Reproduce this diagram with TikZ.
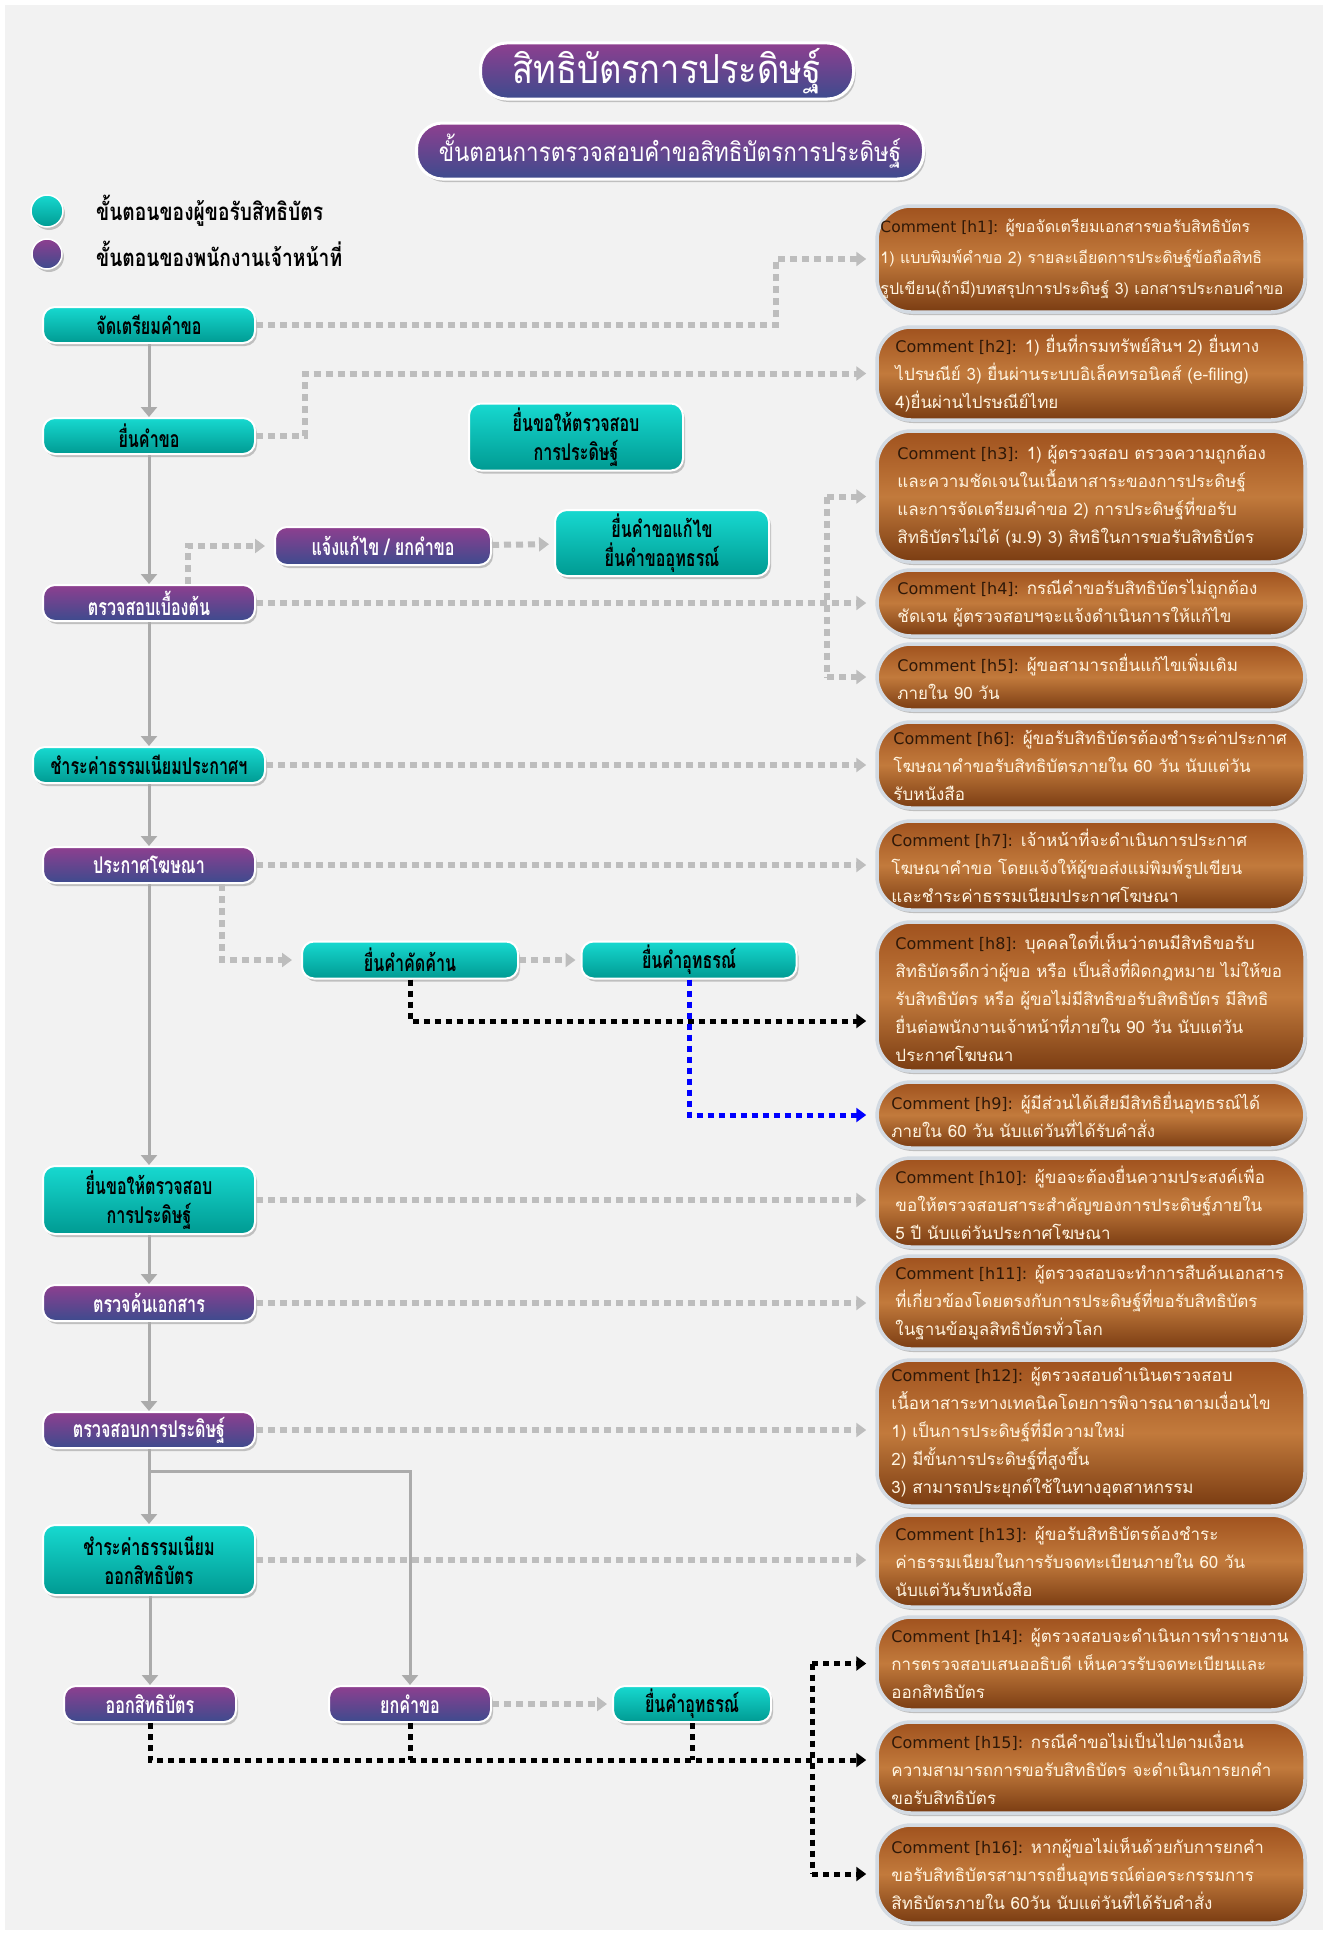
\documentclass[tikz,border=0pt]{standalone}
\usepackage{fontspec}
\setmainfont{Loma}[Script=Thai]
\newfontfamily\condf{Loma}[Script=Thai,FakeStretch=0.7]
\newfontfamily\legf{Loma}[Script=Thai,FakeStretch=0.8]
\newfontfamily\titf{Loma}[Script=Thai,FakeStretch=0.86]
\newfontfamily\latf{DejaVu Sans}
\usetikzlibrary{arrows.meta,shadows,calc}
\definecolor{bgc}{HTML}{F2F2F2}
\definecolor{tealA}{HTML}{17D9D0}
\definecolor{tealB}{HTML}{009A92}
\definecolor{purA}{HTML}{8E3F8F}
\definecolor{purB}{HTML}{3D4B8E}
\definecolor{brA}{HTML}{A0521E}
\definecolor{brM}{HTML}{C27A3C}
\definecolor{brB}{HTML}{7A3C12}
\definecolor{cborder}{HTML}{D3DAE2}
\definecolor{cream}{HTML}{FFF4E0}
\definecolor{cdark}{HTML}{2E1808}
\definecolor{garr}{HTML}{ABABAB}
\definecolor{gdotc}{HTML}{BDBDBD}
\tikzset{
  shad/.style={drop shadow={opacity=0.3,shadow xshift=2pt,shadow yshift=-3pt,fill=black!70}},
  basebox/.style={shad,rounded corners=12pt,draw=white,line width=2pt,align=center,inner sep=2pt,
     font=\condf\bfseries\fontsize{23}{29}\selectfont,minimum width=212pt,minimum height=36pt},
  tealbox/.style={basebox,top color=tealA,bottom color=tealB,text=black},
  purbox/.style={basebox,top color=purA,bottom color=purB,text=white},
  titlebox/.style={shad,rounded corners=26pt,draw=white,line width=3pt,top color=purA,bottom color=purB,
     text=white,minimum height=56pt,align=center},
  combox/.style={shad,rounded corners=34pt,draw=cborder,line width=3.5pt,top color=brA,bottom color=brB,middle color=brM,
     minimum width=428pt},
  ctext/.style={anchor=west,align=left,inner sep=0pt,text=cream,font=\fontsize{17}{28}\selectfont},
  legtext/.style={anchor=west,inner sep=0pt,text=black,font=\legf\bfseries\fontsize{24}{28}\selectfont},
  garrow/.style={draw=garr,line width=3pt,-{Triangle[width=16pt,length=10pt]}},
  gdot/.style={draw=gdotc,line width=6pt,dash pattern=on 7pt off 5pt,-{Triangle[width=14pt,length=10pt]},shorten >=9pt},
  gdotline/.style={draw=gdotc,line width=6pt,dash pattern=on 7pt off 5pt},
  kdot/.style={draw=black,line width=5pt,dash pattern=on 6pt off 5pt,-{Triangle[width=14pt,length=10pt]},shorten >=9pt},
  kdotline/.style={draw=black,line width=5pt,dash pattern=on 6pt off 5pt},
  bdot/.style={draw=blue,line width=5pt,dash pattern=on 6pt off 5pt,-{Triangle[width=14pt,length=10pt]},shorten >=9pt},
}
\newcommand{\cm}[2][16]{\textcolor{cdark}{\latf\fontsize{#1}{28}\selectfont Comment [#2]:}}
\begin{document}
\begin{tikzpicture}[x=1pt,y=-1pt]
\useasboundingbox (0,0) rectangle (1328,1935);
\fill[white] (0,0) rectangle (1328,1935);
\fill[bgc] (5,5) rectangle (1323,1930);

% titles
\node[titlebox,minimum width=373pt,font=\titf\fontsize{40}{44}\selectfont] (title) at (667,71) {สิทธิบัตรการประดิษฐ์};
\node[titlebox,minimum width=507pt,font=\titf\fontsize{26}{30}\selectfont] (subtitle) at (670,151) {ขั้นตอนการตรวจสอบคำขอสิทธิบัตรการประดิษฐ์};

% legend
\node[shad,circle,minimum size=32pt,draw=white,line width=1.5pt,top color=tealA,bottom color=tealB] (lg1) at (47,211) {};
\node[shad,circle,minimum size=30pt,draw=white,line width=1.5pt,top color=purA,bottom color=purB] (lg2) at (47,254) {};
\node[legtext] (lg1t) at (96,211) {ขั้นตอนของผู้ขอรับสิทธิบัตร};
\node[legtext] (lg2t) at (96,254) {ขั้นตอนของพนักงานเจ้าหน้าที่};

% main column
\node[tealbox] (n1) at (149,325) {จัดเตรียมคำขอ};
\node[tealbox] (n2) at (149,436) {ยื่นคำขอ};
\node[purbox] (n3) at (149,603) {ตรวจสอบเบื้องต้น};
\node[tealbox,minimum width=232pt] (n4) at (149,765) {ชำระค่าธรรมเนียมประกาศฯ};
\node[purbox] (n5) at (149,865) {ประกาศโฆษณา};
\node[tealbox,minimum height=68pt] (n6) at (149,1200) {ยื่นขอให้ตรวจสอบ\\การประดิษฐ์};
\node[purbox] (n7) at (149,1303) {ตรวจค้นเอกสาร};
\node[purbox] (n8) at (149,1430) {ตรวจสอบการประดิษฐ์};
\node[tealbox,minimum height=70pt] (n9) at (149,1560) {ชำระค่าธรรมเนียม\\ออกสิทธิบัตร};
\node[purbox,minimum width=172pt] (n10) at (150,1704) {ออกสิทธิบัตร};
\node[purbox,minimum width=162pt] (n11) at (410,1704) {ยกคำขอ};
\node[tealbox,minimum width=158pt] (n12) at (692,1704) {ยื่นคำอุทธรณ์};

% middle nodes
\node[tealbox,minimum width=214pt,minimum height=67pt] (m1) at (576,437) {ยื่นขอให้ตรวจสอบ\\การประดิษฐ์};
\node[purbox,minimum width=216pt,minimum height=38pt] (m2) at (383,546) {แจ้งแก้ไข / ยกคำขอ};
\node[tealbox,minimum width=214pt,minimum height=66pt] (m3) at (662,543) {ยื่นคำขอแก้ไข\\ยื่นคำขออุทธรณ์};
\node[tealbox,minimum width=216pt,minimum height=37pt] (m4) at (410,960) {ยื่นคำคัดค้าน};
\node[tealbox,minimum width=215pt,minimum height=37pt] (m5) at (689,960) {ยื่นคำอุทธรณ์};

% comment boxes
\node[combox,minimum height=106pt] (h1) at (1091,259) {};
\node[combox,minimum height=93pt] (h2) at (1091,373.5) {};
\node[combox,minimum height=131pt] (h3) at (1091,496.5) {};
\node[combox,minimum height=66pt] (h4) at (1091,603) {};
\node[combox,minimum height=66pt] (h5) at (1091,677) {};
\node[combox,minimum height=86pt] (h6) at (1091,765) {};
\node[combox,minimum height=89pt] (h7) at (1091,865.5) {};
\node[combox,minimum height=149pt] (h8) at (1091,996.5) {};
\node[combox,minimum height=66pt] (h9) at (1091,1115) {};
\node[combox,minimum height=89pt] (h10) at (1091,1202.5) {};
\node[combox,minimum height=93pt] (h11) at (1091,1302.5) {};
\node[combox,minimum height=146pt] (h12) at (1091,1433) {};
\node[combox,minimum height=92pt] (h13) at (1091,1561) {};
\node[combox,minimum height=93pt] (h14) at (1091,1663.5) {};
\node[combox,minimum height=91pt] (h15) at (1091,1767.5) {};
\node[combox,minimum height=98pt] (h16) at (1091,1874) {};

\node[ctext,font=\fontsize{16}{31}\selectfont] (h1t) at ([xshift=5pt]h1.west) {\cm[15.5]{h1} ผู้ขอจัดเตรียมเอกสารขอรับสิทธิบัตร\\1) แบบพิมพ์คำขอ 2) รายละเอียดการประดิษฐ์ข้อถือสิทธิ\\รูปเขียน(ถ้ามี)บทสรุปการประดิษฐ์ 3) เอกสารประกอบคำขอ};
\node[ctext] (h2t) at ([xshift=20pt]h2.west) {\cm{h2} 1) ยื่นที่กรมทรัพย์สินฯ 2) ยื่นทาง\\ไปรษณีย์ 3) ยื่นผ่านระบบอิเล็คทรอนิคส์ (e-filing)\\4)ยื่นผ่านไปรษณีย์ไทย};
\node[ctext] (h3t) at ([xshift=22pt]h3.west) {\cm{h3} 1) ผู้ตรวจสอบ ตรวจความถูกต้อง\\และความชัดเจนในเนื้อหาสาระของการประดิษฐ์\\และการจัดเตรียมคำขอ 2) การประดิษฐ์ที่ขอรับ\\สิทธิบัตรไม่ได้ (ม.9) 3) สิทธิในการขอรับสิทธิบัตร};
\node[ctext] (h4t) at ([xshift=22pt]h4.west) {\cm{h4} กรณีคำขอรับสิทธิบัตรไม่ถูกต้อง\\ชัดเจน ผู้ตรวจสอบฯจะแจ้งดำเนินการให้แก้ไข};
\node[ctext] (h5t) at ([xshift=22pt]h5.west) {\cm{h5} ผู้ขอสามารถยื่นแก้ไขเพิ่มเติม\\ภายใน 90 วัน};
\node[ctext] (h6t) at ([xshift=18pt]h6.west) {\cm{h6} ผู้ขอรับสิทธิบัตรต้องชำระค่าประกาศ\\โฆษณาคำขอรับสิทธิบัตรภายใน 60 วัน นับแต่วัน\\รับหนังสือ};
\node[ctext] (h7t) at ([xshift=16pt]h7.west) {\cm{h7} เจ้าหน้าที่จะดำเนินการประกาศ\\โฆษณาคำขอ โดยแจ้งให้ผู้ขอส่งแม่พิมพ์รูปเขียน\\และชำระค่าธรรมเนียมประกาศโฆษณา};
\node[ctext] (h8t) at ([xshift=20pt]h8.west) {\cm{h8} บุคคลใดที่เห็นว่าตนมีสิทธิขอรับ\\สิทธิบัตรดีกว่าผู้ขอ หรือ เป็นสิ่งที่ผิดกฎหมาย ไม่ให้ขอ\\รับสิทธิบัตร หรือ ผู้ขอไม่มีสิทธิขอรับสิทธิบัตร มีสิทธิ\\ยื่นต่อพนักงานเจ้าหน้าที่ภายใน 90 วัน นับแต่วัน\\ประกาศโฆษณา};
\node[ctext] (h9t) at ([xshift=16pt]h9.west) {\cm{h9} ผู้มีส่วนได้เสียมีสิทธิยื่นอุทธรณ์ได้\\ภายใน 60 วัน นับแต่วันที่ได้รับคำสั่ง};
\node[ctext] (h10t) at ([xshift=20pt]h10.west) {\cm{h10} ผู้ขอจะต้องยื่นความประสงค์เพื่อ\\ขอให้ตรวจสอบสาระสำคัญของการประดิษฐ์ภายใน\\5 ปี นับแต่วันประกาศโฆษณา};
\node[ctext] (h11t) at ([xshift=20pt]h11.west) {\cm{h11} ผู้ตรวจสอบจะทำการสืบค้นเอกสาร\\ที่เกี่ยวข้องโดยตรงกับการประดิษฐ์ที่ขอรับสิทธิบัตร\\ในฐานข้อมูลสิทธิบัตรทั่วโลก};
\node[ctext] (h12t) at ([xshift=16pt]h12.west) {\cm{h12} ผู้ตรวจสอบดำเนินตรวจสอบ\\เนื้อหาสาระทางเทคนิคโดยการพิจารณาตามเงื่อนไข\\1) เป็นการประดิษฐ์ที่มีความใหม่\\2) มีขั้นการประดิษฐ์ที่สูงขึ้น\\3) สามารถประยุกต์ใช้ในทางอุตสาหกรรม};
\node[ctext] (h13t) at ([xshift=20pt]h13.west) {\cm{h13} ผู้ขอรับสิทธิบัตรต้องชำระ\\ค่าธรรมเนียมในการรับจดทะเบียนภายใน 60 วัน\\นับแต่วันรับหนังสือ};
\node[ctext] (h14t) at ([xshift=16pt]h14.west) {\cm{h14} ผู้ตรวจสอบจะดำเนินการทำรายงาน\\การตรวจสอบเสนออธิบดี เห็นควรรับจดทะเบียนและ\\ออกสิทธิบัตร};
\node[ctext] (h15t) at ([xshift=16pt]h15.west) {\cm{h15} กรณีคำขอไม่เป็นไปตามเงื่อน\\ความสามารถการขอรับสิทธิบัตร จะดำเนินการยกคำ\\ขอรับสิทธิบัตร};
\node[ctext] (h16t) at ([xshift=16pt]h16.west) {\cm{h16} หากผู้ขอไม่เห็นด้วยกับการยกคำ\\ขอรับสิทธิบัตรสามารถยื่นอุทธรณ์ต่อคระกรรมการ\\สิทธิบัตรภายใน 60วัน นับแต่วันที่ได้รับคำสั่ง};

% solid grey flow
\draw[garrow] (n1) -- (n2);
\draw[garrow] (n2) -- (n3);
\draw[garrow] (n3) -- (n4);
\draw[garrow] (n4) -- (n5);
\draw[garrow] (n5) -- (n6);
\draw[garrow] (n6) -- (n7);
\draw[garrow] (n7) -- (n8);
\draw[garrow] (n8) -- (n9);
\draw[garrow] (n9.south -| n10) -- (n10);
\coordinate (br) at (149,1471);
\draw[garrow] (br) -| (n11);

% grey dotted connectors
\draw[gdot] (n1.east) -- (776,325) |- (h1.west);
\draw[gdot] (n2.east) -- (305,436) |- (h2.west);
\draw[gdot] (n3.east) -- (n3.east -| h4.west);
\coordinate (vx) at (827,0);
\draw[gdotline] (h3.west -| vx) -- (h5.west -| vx);
\draw[gdot] (h3.west -| vx) -- (h3.west);
\draw[gdot] (h5.west -| vx) -- (h5.west);
\draw[gdot] ([xshift=39pt]n3.north) |- (m2.west);
\draw[gdot,shorten >=5pt] (m2) -- (m3);
\draw[gdot] (n4.east) -- (n4.east -| h6.west);
\draw[gdot] (n5.east) -- (n5.east -| h7.west);
\draw[gdot] ([xshift=73pt]n5.south) |- (m4.west);
\draw[gdot,shorten >=5pt] (m4) -- (m5);
\draw[gdot] (n6.east) -- (n6.east -| h10.west);
\draw[gdot] (n7.east) -- (n7.east -| h11.west);
\draw[gdot] (n8.east) -- (n8.east -| h12.west);
\draw[gdot] (n9.east) -- (n9.east -| h13.west);
\draw[gdot,shorten >=5pt] (n11) -- (n12);

% black / blue dotted
\draw[kdot] (m4.south) |- ([yshift=-24.5pt]h8.west);
\draw[bdot] (m5.south) |- (h9.west);
\coordinate (kb) at (812,1760);
\draw[kdotline] (n11.south) -- (n11.south |- kb);
\draw[kdotline] (n12.south) -- (n12.south |- kb);
\draw[kdot] (n10.south) |- (h15.west |- kb);
\draw[kdotline] (kb |- h14.west) -- (kb |- h16.west);
\draw[kdot] (kb |- h14.west) -- (h14.west);
\draw[kdot] (kb |- h16.west) -- (h16.west);
\end{tikzpicture}
\end{document}
